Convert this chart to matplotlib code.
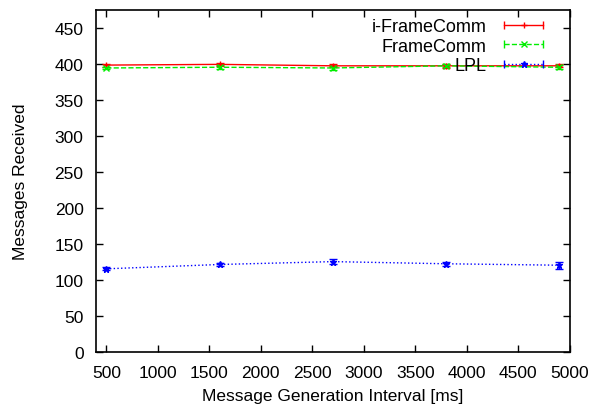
import matplotlib
matplotlib.use("Agg")
import matplotlib.pyplot as plt
from matplotlib.lines import Line2D
from matplotlib.legend_handler import HandlerLine2D

plt.rcParams['font.family'] = ['Liberation Sans', 'DejaVu Sans']

intervals = [500, 1600, 2700, 3800, 4900]
iframe = [398, 399, 397, 397, 397]
iframe_err = [2, 2, 2, 3, 2]
frame = [394, 395, 394, 397, 395]
frame_err = [2, 3, 3, 2, 3]
lpl = [115, 121, 125, 122, 120]
lpl_err = [2, 2, 4, 3, 5]

xticks = [500, 1000, 1500, 2000, 2500, 3000, 3500, 4000, 4500, 5000]
yticks = [0, 50, 100, 150, 200, 250, 300, 350, 400, 450]

series = [
	("i-FrameComm", iframe, iframe_err, "#ff0000", "-", "+"),
	("FrameComm", frame, frame_err, "#00ee00", "--", "x"),
	("LPL", lpl, lpl_err, "#0000ff", ":", "*"),
]

fig = plt.figure(figsize=(6.02, 4.10), dpi=100)
ax = fig.add_axes([0.1595, 0.140, 0.787, 0.834])

# gnuplot-style keys: line with end caps plus the point in the middle
handles = []
hmap = {}
for name, vals, errs, col, ls, mk in series:
	ax.errorbar(intervals, vals, yerr=errs, color=col, linestyle=ls, marker=mk,
				markersize=5, linewidth=1, capsize=3, elinewidth=1)
	caps = Line2D([], [], color=col, linestyle=ls, linewidth=1, marker="|", markersize=6)
	mid = Line2D([], [], color=col, linestyle="none", marker=mk, markersize=5)
	hmap[caps] = HandlerLine2D(numpoints=2)
	hmap[mid] = HandlerLine2D(numpoints=1)
	handles.append((caps, mid))

ax.set_xlim(400, 5000)
ax.set_ylim(0, 475)
ax.set_xticks(xticks)
ax.set_yticks(yticks)
for sp in ax.spines.values():
	sp.set_linewidth(1.2)
ax.tick_params(direction="in", top=True, right=True, labelsize=12.5, length=5, width=1)
ax.tick_params(axis="x", pad=10)
ax.tick_params(axis="y", pad=9)
ax.set_xlabel("Message Generation Interval [ms]", fontsize=12.5)
ax.set_ylabel("Messages Received", fontsize=12.5)
ax.xaxis.set_label_coords(0.5, -0.107)
ax.yaxis.set_label_coords(-0.143, 0.5)

ax.legend(handles, [s[0] for s in series], handler_map=hmap, loc="upper right",
		  frameon=False, markerfirst=False, fontsize=13, handlelength=2.77,
		  labelspacing=0.13, borderpad=0, borderaxespad=0, handletextpad=0.67,
		  bbox_to_anchor=(0.9557, 0.975))

fig.savefig("out.png", dpi=100)
